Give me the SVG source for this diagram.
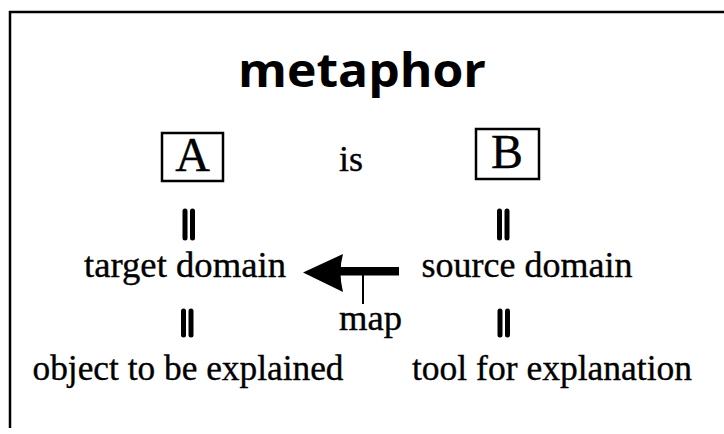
<svg xmlns="http://www.w3.org/2000/svg" width="724" height="434" viewBox="0 0 724 434">
<style>
.t{font-family:"Liberation Serif","Times New Roman",serif;font-size:36px;fill:#000;stroke:#000;stroke-width:0.35;text-anchor:middle}
.ttl{font-family:"Open Sans","Noto Sans",sans-serif;font-weight:bold;font-size:46px;fill:#000;text-anchor:middle}
.box{fill:none;stroke:#000;stroke-width:2.5}
.eq{stroke:#000;stroke-width:5;stroke-linecap:round}
</style>
<rect width="724" height="434" fill="#fff"/>
<g id="frame">
<line x1="9" y1="12" x2="724" y2="12" stroke="#000" stroke-width="2.5"/>
<line x1="10" y1="11" x2="10" y2="428" stroke="#000" stroke-width="2.5"/>
</g>
<g id="title"><text class="ttl" x="362" y="87" textLength="248" lengthAdjust="spacingAndGlyphs">metaphor</text></g>
<g id="nodeA">
<rect class="box" x="162" y="133" width="61" height="48"/>
<text class="t" x="192.5" y="171" style="font-size:48px">A</text>
</g>
<g id="is"><text class="t" x="351" y="171">is</text></g>
<g id="nodeB">
<rect class="box" x="476" y="129" width="63" height="50"/>
<text class="t" x="507" y="168" style="font-size:48px">B</text>
</g>
<g id="target"><text class="t" x="185" y="277" textLength="202" lengthAdjust="spacingAndGlyphs">target domain</text></g>
<g id="source"><text class="t" x="527" y="277" textLength="211" lengthAdjust="spacingAndGlyphs">source domain</text></g>
<g id="object"><text class="t" x="188" y="380" textLength="311" lengthAdjust="spacingAndGlyphs">object to be explained</text></g>
<g id="tool"><text class="t" x="552" y="380" textLength="280" lengthAdjust="spacingAndGlyphs">tool for explanation</text></g>
<g id="map"><text class="t" x="370.5" y="330" textLength="63" lengthAdjust="spacingAndGlyphs">map</text></g>
<g id="connectors">
<line class="eq" x1="185" y1="211" x2="185" y2="238"/>
<line class="eq" x1="192.5" y1="211" x2="192.5" y2="238"/>
<line class="eq" x1="499.5" y1="211" x2="499.5" y2="238"/>
<line class="eq" x1="507" y1="211" x2="507" y2="238"/>
<line class="eq" x1="183.5" y1="311" x2="183.5" y2="335"/>
<line class="eq" x1="191" y1="311" x2="191" y2="335"/>
<line class="eq" x1="500" y1="311" x2="500" y2="335"/>
<line class="eq" x1="507.5" y1="311" x2="507.5" y2="335"/>
<rect x="338" y="267" width="61" height="8.5" fill="#000"/>
<path d="M303,272.5 L343,254 Q338,272 343,292 Z" fill="#000"/>
<line x1="363" y1="275" x2="363" y2="304" stroke="#000" stroke-width="2"/>
</g>
</svg>
